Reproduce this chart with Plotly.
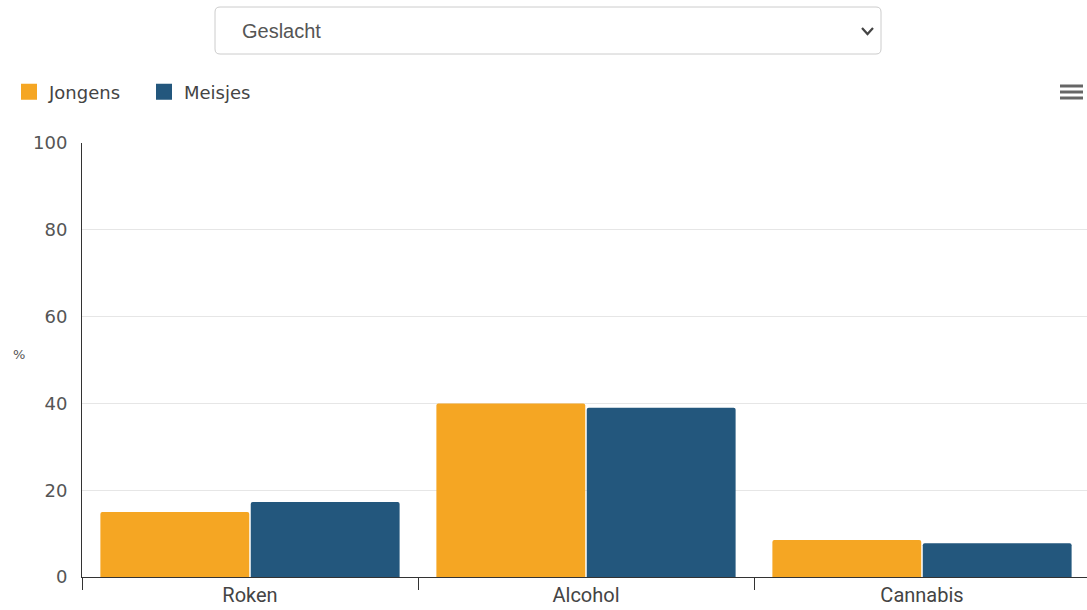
import plotly.graph_objects as go

categories = ["Roken", "Alcohol", "Cannabis"]
jongens = [15.0, 40.0, 8.5]
meisjes = [17.3, 39.0, 7.8]
y_ticks = [0, 20, 40, 60, 80, 100]
series_names = ["Jongens", "Meisjes"]

ORANGE = "#F5A623"
BLUE = "#23577D"

W, H = 1087, 610
L, R, T, B = 82, 0, 143, 33


def px_x(px):
    return (px - L) / (W - L - R)


def px_y(py):
    return (H - B - py) / (H - T - B)


def rounded_rect(x0, y0, x1, y1, r):
    # path in paper coords for a box given in pixels
    pts = [
        ("M", x0 + r, y0), ("L", x1 - r, y0), ("Q", x1, y0, x1, y0 + r),
        ("L", x1, y1 - r), ("Q", x1, y1, x1 - r, y1), ("L", x0 + r, y1),
        ("Q", x0, y1, x0, y1 - r), ("L", x0, y0 + r), ("Q", x0, y0, x0 + r, y0),
    ]
    out = []
    for p in pts:
        cmd, coords = p[0], p[1:]
        xy = []
        for i in range(0, len(coords), 2):
            xy.append(f"{px_x(coords[i])},{px_y(coords[i + 1])}")
        out.append(cmd + " " + " ".join(xy))
    return " ".join(out) + " Z"


fig = go.Figure()
for name, vals, col in zip(series_names, [jongens, meisjes], [ORANGE, BLUE]):
    fig.add_trace(go.Bar(x=categories, y=vals, name=name, marker_color=col,
                         marker_line_width=0, showlegend=False, legendgroup=name))
    # legend-only entry with a larger square swatch
    fig.add_trace(go.Scatter(x=[None], y=[None], mode="markers", name=name,
                             legendgroup=name,
                             marker=dict(symbol="square", size=16, color=col)))

shapes = [
    # dropdown box
    dict(type="path", xref="paper", yref="paper",
         path=rounded_rect(215, 7, 881, 54, 5),
         line=dict(color="#cccccc", width=1), fillcolor="white", layer="above"),
    # chevron
    dict(type="path", xref="paper", yref="paper",
         path=f"M {px_x(862)} {px_y(28)} L {px_x(867.5)} {px_y(34)} L {px_x(873)} {px_y(28)}",
         line=dict(color="#444", width=2.2)),
]
# hamburger icon
for yy in (86, 92, 98):
    shapes.append(dict(type="line", xref="paper", yref="paper",
                       x0=px_x(1060), x1=px_x(1083), y0=px_y(yy), y1=px_y(yy),
                       line=dict(color="#666666", width=3)))

fig.update_layout(
    width=W, height=H,
    margin=dict(l=L, r=R, t=T, b=B),
    paper_bgcolor="white", plot_bgcolor="white",
    barmode="group", bargap=0.105, bargroupgap=0.01, barcornerradius=2,
    font=dict(family="DejaVu Sans", color="#555555"),
    legend=dict(orientation="h", xref="container", yref="container",
                x=9 / W, y=1 - 92 / H, xanchor="left", yanchor="middle",
                font=dict(size=18, color="#444444"), itemwidth=30,
                entrywidth=90, traceorder="normal"),
    shapes=shapes,
    annotations=[
        dict(text="Geslacht", xref="paper", yref="paper", x=px_x(240), y=px_y(31),
             xanchor="left", yanchor="middle", showarrow=False,
             font=dict(family="Liberation Sans", size=20, color="#555555")),
        dict(text="%", xref="paper", yref="paper", x=px_x(19), y=px_y(354),
             xanchor="center", yanchor="middle", showarrow=False,
             font=dict(size=13, color="#555555")),
    ],
)

fig.update_xaxes(
    showline=True, linecolor="#333333", linewidth=1,
    ticks="outside", tickson="boundaries", ticklen=12, tickcolor="#333333",
    tickfont=dict(family="Roboto", size=20, color="#444444"),
    showgrid=False, range=[-0.5, -0.5 + (W - L - R) / 336],
)
fig.update_yaxes(
    range=[0, 100], tickvals=y_ticks,
    showline=True, linecolor="#333333", linewidth=1,
    gridcolor="#e6e6e6", gridwidth=1, zeroline=False,
    ticks="", ticklabelstandoff=10,
    tickfont=dict(size=18, color="#555555"),
)

fig.write_html("out.html", config={"displayModeBar": False},
               post_script="document.body.style.margin='0px';")
